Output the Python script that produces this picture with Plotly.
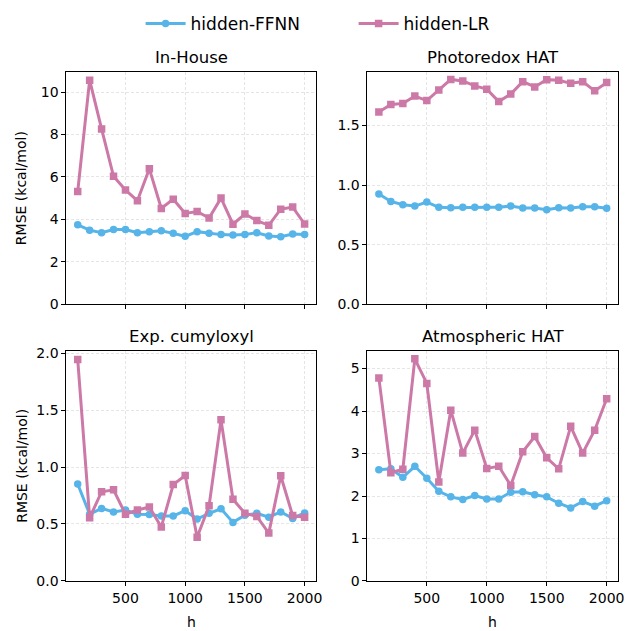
import plotly.graph_objects as go

h = [100, 200, 300, 400, 500, 600, 700, 800, 900, 1000,
     1100, 1200, 1300, 1400, 1500, 1600, 1700, 1800, 1900, 2000]

inhouse_ffnn = [3.74, 3.49, 3.37, 3.52, 3.52, 3.37, 3.42, 3.46, 3.34, 3.20,
                3.42, 3.35, 3.28, 3.26, 3.28, 3.37, 3.22, 3.18, 3.31, 3.29]
inhouse_lr = [5.31, 10.56, 8.26, 6.03, 5.38, 4.88, 6.38, 4.51, 4.95, 4.28,
              4.37, 4.06, 5.00, 3.77, 4.25, 3.94, 3.72, 4.48, 4.58, 3.78]

photo_ffnn = [0.926, 0.863, 0.835, 0.824, 0.857, 0.813, 0.810, 0.813, 0.813, 0.813,
              0.813, 0.824, 0.808, 0.808, 0.794, 0.810, 0.808, 0.819, 0.819, 0.805]
photo_lr = [1.613, 1.676, 1.684, 1.747, 1.709, 1.797, 1.887, 1.874, 1.832, 1.805,
            1.701, 1.764, 1.868, 1.824, 1.885, 1.879, 1.854, 1.868, 1.791, 1.860]

cumyl_ffnn = [0.851, 0.586, 0.637, 0.606, 0.623, 0.586, 0.583, 0.571, 0.571, 0.617,
              0.543, 0.594, 0.634, 0.514, 0.577, 0.594, 0.560, 0.606, 0.549, 0.597]
cumyl_lr = [1.943, 0.554, 0.783, 0.800, 0.586, 0.623, 0.649, 0.474, 0.846, 0.926,
            0.383, 0.660, 1.414, 0.717, 0.594, 0.566, 0.420, 0.923, 0.574, 0.560]

atmos_ffnn = [2.62, 2.64, 2.44, 2.70, 2.42, 2.11, 1.98, 1.92, 2.01, 1.93,
              1.93, 2.09, 2.10, 2.03, 1.98, 1.83, 1.72, 1.87, 1.76, 1.89]
atmos_lr = [4.78, 2.55, 2.63, 5.23, 4.65, 2.33, 4.02, 3.01, 3.55, 2.65,
            2.70, 2.25, 3.04, 3.40, 2.90, 2.64, 3.64, 3.01, 3.55, 4.29]

panel_titles = ["In-House", "Photoredox HAT", "Exp. cumyloxyl", "Atmospheric HAT"]
series_names = ["hidden-FFNN", "hidden-LR"]
x_ticks = [500, 1000, 1500, 2000]

BLUE = "#56B4E9"
PINK = "#CC79A7"
FONT = "DejaVu Sans"

panels = [
    (inhouse_ffnn, inhouse_lr, [0, 10.92], [0, 2, 4, 6, 8, 10], ["0", "2", "4", "6", "8", "10"]),
    (photo_ffnn, photo_lr, [0, 1.945], [0, 0.5, 1.0, 1.5], ["0.0", "0.5", "1.0", "1.5"]),
    (cumyl_ffnn, cumyl_lr, [0, 2.017], [0, 0.5, 1.0, 1.5, 2.0], ["0.0", "0.5", "1.0", "1.5", "2.0"]),
    (atmos_ffnn, atmos_lr, [0, 5.41], [0, 1, 2, 3, 4, 5], ["0", "1", "2", "3", "4", "5"]),
]

W, H = 630, 631
xdoms = [[67 / W, 319 / W], [371 / W, 624 / W]]
ydoms = [[1 - 305 / H, 1 - 68 / H], [1 - 588 / H, 1 - 353 / H]]

fig = go.Figure()
layout = dict(
    width=W, height=H,
    margin=dict(l=0, r=0, t=0, b=0),
    paper_bgcolor="white", plot_bgcolor="white",
    font=dict(family=FONT, size=14, color="black"),
    showlegend=True,
    legend=dict(orientation="h", x=0.5 + 42 / W, xanchor="center", y=1.0, yanchor="top",
                font=dict(size=17, family=FONT, color="black"), bgcolor="rgba(0,0,0,0)",
                itemwidth=40, tracegroupgap=0, entrywidth=158, entrywidthmode="pixels"),
)
annotations = []

for i, (ff, lr, yr, yt, ytl) in enumerate(panels):
    row, col = divmod(i, 2)
    n = i + 1
    xa = f"x{n}" if n > 1 else "x"
    ya = f"y{n}" if n > 1 else "y"
    fig.add_trace(go.Scatter(
        x=h, y=ff, mode="lines+markers", name=series_names[0],
        line=dict(color=BLUE, width=3), marker=dict(symbol="circle", size=7.5, color=BLUE),
        xaxis=xa, yaxis=ya, showlegend=(i == 0), legendgroup="ffnn"))
    fig.add_trace(go.Scatter(
        x=h, y=lr, mode="lines+markers", name=series_names[1],
        line=dict(color=PINK, width=3), marker=dict(symbol="square", size=7.5, color=PINK),
        xaxis=xa, yaxis=ya, showlegend=(i == 0), legendgroup="lr"))
    axis_common = dict(
        showline=True, linecolor="black", linewidth=1, mirror=True,
        ticks="outside", ticklen=4, tickcolor="black", tickwidth=1,
        showgrid=True, gridcolor="rgba(0,0,0,0.10)", griddash="3px,2px", gridwidth=1,
        zeroline=False, tickfont=dict(size=14, family=FONT, color="black"),
    )
    layout["xaxis" + (str(n) if n > 1 else "")] = dict(
        axis_common, domain=xdoms[col], anchor=ya, range=[5, 2095],
        tickvals=x_ticks, ticktext=[str(v) for v in x_ticks],
        showticklabels=(row == 1))
    layout["yaxis" + (str(n) if n > 1 else "")] = dict(
        axis_common, domain=ydoms[row], anchor=xa, range=yr,
        tickvals=yt, ticktext=ytl)
    annotations.append(dict(
        text=panel_titles[i], x=(xdoms[col][0] + xdoms[col][1]) / 2,
        y=ydoms[row][1], xref="paper", yref="paper", xanchor="center", yanchor="bottom",
        yshift=3, showarrow=False, font=dict(size=16.5, family=FONT, color="black")))
    if col == 0:
        annotations.append(dict(
            text="RMSE (kcal/mol)", x=22 / W, y=(ydoms[row][0] + ydoms[row][1]) / 2,
            xref="paper", yref="paper", xanchor="center", yanchor="middle",
            textangle=-90, showarrow=False, font=dict(size=14, family=FONT, color="black")))
    if row == 1:
        annotations.append(dict(
            text="h", x=(xdoms[col][0] + xdoms[col][1]) / 2, y=1 - 630 / H,
            xref="paper", yref="paper", xanchor="center", yanchor="middle",
            showarrow=False, font=dict(size=14, family=FONT, color="black")))

layout["annotations"] = annotations
fig.update_layout(**layout)
fig.write_html("out.html")
